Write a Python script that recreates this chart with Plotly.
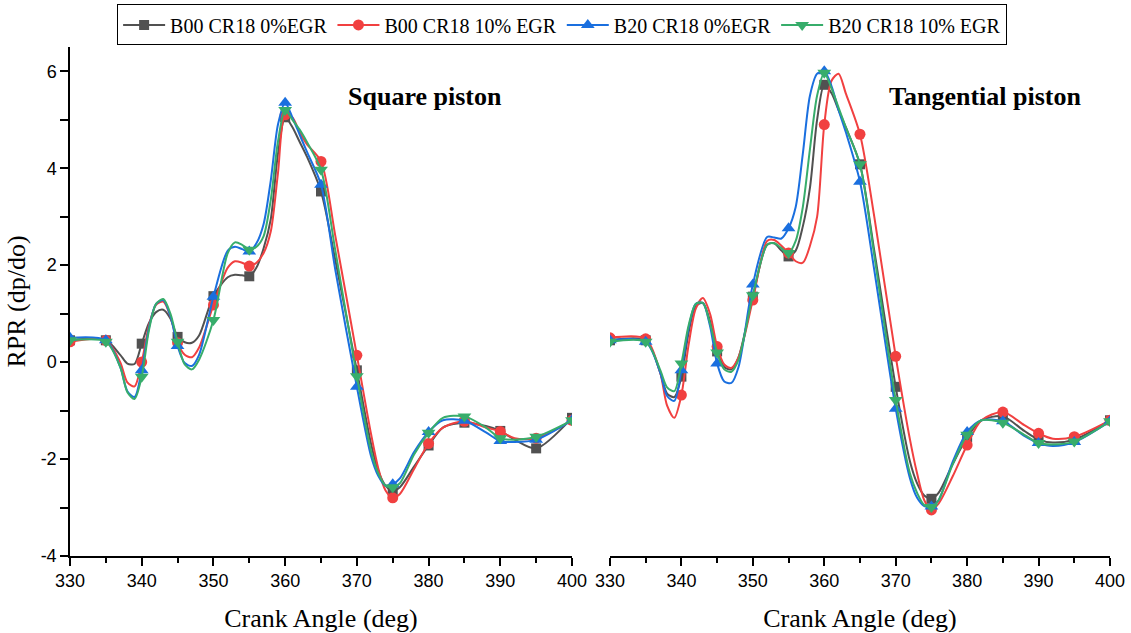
import plotly.graph_objects as go

# Crank angle grid for the curves (deg)
ANGLES = [330, 335, 337, 338, 339, 340, 341, 342, 343, 344, 345, 346, 347, 348, 350,
          352, 353, 354, 355, 356, 357, 358, 359, 360, 361, 362, 363, 365, 367, 370,
          372, 373, 374, 375, 376, 378, 380, 382, 385, 388, 390, 392, 395, 400]

SERIES_NAMES = ["B00 CR18 0%EGR", "B00 CR18 10% EGR", "B20 CR18 0%EGR", "B20 CR18 10% EGR"]

# Square piston
SQ_B00_0 = [0.45, 0.45, 0.15, -0.03, -0.04, 0.38, 0.80, 1.03, 1.08, 0.90, 0.52, 0.41, 0.40, 0.55, 1.36,
            1.75, 1.80, 1.79, 1.77, 1.95, 2.35, 2.95, 4.30, 5.05, 4.85, 4.55, 4.25, 3.52, 2.10, -0.17,
            -1.70, -2.25, -2.55, -2.66, -2.58, -2.15, -1.72, -1.35, -1.25, -1.32, -1.42, -1.60, -1.78, -1.15]
SQ_B00_10 = [0.42, 0.45, 0.00, -0.42, -0.50, 0.00, 0.75, 1.18, 1.25, 0.95, 0.40, 0.15, 0.10, 0.30, 1.18,
             1.95, 2.08, 2.05, 1.98, 2.05, 2.25, 2.70, 3.90, 5.10, 5.05, 4.75, 4.50, 4.14, 2.60, 0.14,
             -1.50, -2.20, -2.65, -2.80, -2.72, -2.20, -1.68, -1.35, -1.22, -1.35, -1.43, -1.57, -1.57, -1.20]
SQ_B20_0 = [0.50, 0.45, -0.10, -0.60, -0.72, -0.17, 0.70, 1.20, 1.28, 0.95, 0.33, -0.02, -0.08, 0.15, 1.35,
            2.30, 2.38, 2.33, 2.28, 2.45, 2.85, 3.75, 4.90, 5.35, 5.05, 4.70, 4.35, 3.66, 1.90, -0.51,
            -1.95, -2.35, -2.55, -2.52, -2.40, -1.85, -1.44, -1.20, -1.21, -1.45, -1.63, -1.65, -1.60, -1.20]
SQ_B20_10 = [0.45, 0.42, -0.10, -0.62, -0.76, -0.30, 0.65, 1.20, 1.30, 1.00, 0.42, -0.05, -0.15, 0.05, 0.87,
             2.25, 2.47, 2.42, 2.32, 2.38, 2.60, 3.35, 4.55, 5.20, 5.00, 4.80, 4.55, 3.97, 2.30, -0.29,
             -1.85, -2.30, -2.55, -2.58, -2.50, -1.90, -1.46, -1.15, -1.12, -1.35, -1.57, -1.60, -1.54, -1.20]

# Tangential piston
TG_B00_0 = [0.45, 0.45, -0.20, -0.65, -0.72, -0.30, 0.60, 1.15, 1.22, 0.85, 0.22, -0.10, -0.15, 0.10, 1.35,
            2.42, 2.45, 2.30, 2.18, 2.30, 2.80, 3.60, 5.00, 5.72, 5.55, 5.20, 4.85, 4.08, 2.30, -0.51,
            -2.05, -2.50, -2.75, -2.82, -2.70, -2.10, -1.55, -1.20, -1.12, -1.42, -1.60, -1.66, -1.60, -1.20]
TG_B00_10 = [0.50, 0.48, -0.20, -0.90, -1.15, -0.68, 0.35, 1.10, 1.32, 1.00, 0.32, -0.05, -0.12, 0.10, 1.28,
             2.50, 2.52, 2.40, 2.25, 2.08, 2.05, 2.40, 3.00, 4.90, 5.80, 5.95, 5.55, 4.70, 3.00, 0.12,
             -1.60, -2.30, -2.85, -3.05, -2.92, -2.35, -1.71, -1.20, -1.03, -1.30, -1.47, -1.58, -1.54, -1.20]
TG_B20_0 = [0.45, 0.42, -0.20, -0.70, -0.80, -0.17, 0.70, 1.20, 1.22, 0.75, -0.03, -0.40, -0.43, -0.10, 1.60,
            2.58, 2.57, 2.55, 2.76, 3.20, 4.30, 5.50, 5.95, 6.00, 5.70, 5.20, 4.75, 3.72, 1.90, -0.96,
            -2.40, -2.80, -2.97, -2.98, -2.85, -2.05, -1.44, -1.20, -1.22, -1.52, -1.67, -1.73, -1.65, -1.22]
TG_B20_10 = [0.42, 0.42, -0.15, -0.52, -0.60, -0.03, 0.75, 1.20, 1.22, 0.80, 0.20, -0.15, -0.20, 0.05, 1.38,
             2.42, 2.45, 2.35, 2.25, 2.50, 3.20, 4.40, 5.50, 5.97, 5.65, 5.25, 4.85, 4.08, 2.20, -0.78,
             -2.30, -2.70, -2.95, -2.99, -2.85, -2.10, -1.50, -1.20, -1.25, -1.50, -1.67, -1.70, -1.64, -1.22]

PANEL_TITLES = ["Square piston", "Tangential piston"]
X_TITLE = "Crank Angle (deg)"
Y_TITLE = "RPR (dp/do)"
Y_TICKS = [-4, -3, -2, -1, 0, 1, 2, 3, 4, 5, 6]
Y_TICK_TEXT = ["-4", "", "-2", "", "0", "", "2", "", "4", "", "6"]

COLORS = ["#515151", "#F14040", "#1A6FDF", "#37AD6B"]
SYMBOLS = ["square", "circle", "triangle-up", "triangle-down"]
MSIZES = [10, 11, 12, 12]

SERIF = "Liberation Serif"
SANS = "Liberation Sans"

fig = go.Figure()

panels = [([SQ_B00_0, SQ_B00_10, SQ_B20_0, SQ_B20_10], "x", "y"),
          ([TG_B00_0, TG_B00_10, TG_B20_0, TG_B20_10], "x2", "y2")]

mk_idx = [i for i, a in enumerate(ANGLES) if a % 5 == 0]
for data, xa, ya in panels:
    for k, vals in enumerate(data):
        fig.add_trace(go.Scatter(x=ANGLES, y=vals, mode="lines", xaxis=xa, yaxis=ya,
                                 line=dict(color=COLORS[k], width=2, shape="spline", smoothing=0.8),
                                 showlegend=False, hoverinfo="skip"))
        fig.add_trace(go.Scatter(x=[ANGLES[i] for i in mk_idx], y=[vals[i] for i in mk_idx],
                                 mode="markers", xaxis=xa, yaxis=ya,
                                 marker=dict(color=COLORS[k], symbol=SYMBOLS[k], size=MSIZES[k]),
                                 showlegend=False))

for k, name in enumerate(SERIES_NAMES):
    fig.add_trace(go.Scatter(x=[None], y=[None], mode="lines+markers", name=name,
                             line=dict(color=COLORS[k], width=2),
                             marker=dict(color=COLORS[k], symbol=SYMBOLS[k], size=MSIZES[k])))

axis_common = dict(range=[330, 400], showline=True, linecolor="black", linewidth=1.5,
                   ticks="outside", ticklen=8, tickwidth=1.5, tickcolor="black", dtick=10,
                   tick0=330, showgrid=False, zeroline=False,
                   tickfont=dict(family=SANS, size=18, color="black"),
                   minor=dict(dtick=5, tick0=330, ticks="outside", ticklen=5, tickwidth=1.5,
                              tickcolor="black", showgrid=False),
                   title=dict(text=X_TITLE, font=dict(family=SERIF, size=26, color="black"),
                              standoff=18))

fig.update_layout(
    width=1131, height=633,
    margin=dict(l=70, r=21, t=47, b=77, autoexpand=False),
    paper_bgcolor="white", plot_bgcolor="white",
    xaxis=dict(domain=[0, 0.4827], anchor="y", **axis_common),
    xaxis2=dict(domain=[0.5192, 1], anchor="y2", **axis_common),
    yaxis=dict(range=[-4, 6.5], anchor="x", showline=True, linecolor="black", linewidth=1.5,
               ticks="outside", ticklen=8, tickwidth=1.5, tickcolor="black",
               tickvals=Y_TICKS, ticktext=Y_TICK_TEXT, showgrid=False, zeroline=False,
               tickfont=dict(family=SANS, size=18, color="black"),
               title=dict(text=Y_TITLE, font=dict(family=SERIF, size=26, color="black"),
                          standoff=8)),
    yaxis2=dict(range=[-4, 6.5], anchor="x2", visible=False),
    legend=dict(orientation="h", xref="container", yref="container",
                x=0.497, y=0.993, xanchor="center", yanchor="top",
                bordercolor="black", borderwidth=1, bgcolor="white",
                font=dict(family=SERIF, size=20, color="black"),
                itemwidth=42, tracegroupgap=0),
    annotations=[
        dict(x=379.5, y=5.48, xref="x", yref="y", text="<b>" + PANEL_TITLES[0] + "</b>",
             showarrow=False, font=dict(family=SERIF, size=26, color="black")),
        dict(x=382.5, y=5.48, xref="x2", yref="y2", text="<b>" + PANEL_TITLES[1] + "</b>",
             showarrow=False, font=dict(family=SERIF, size=26, color="black")),
    ],
)

fig.write_html("out.html")
